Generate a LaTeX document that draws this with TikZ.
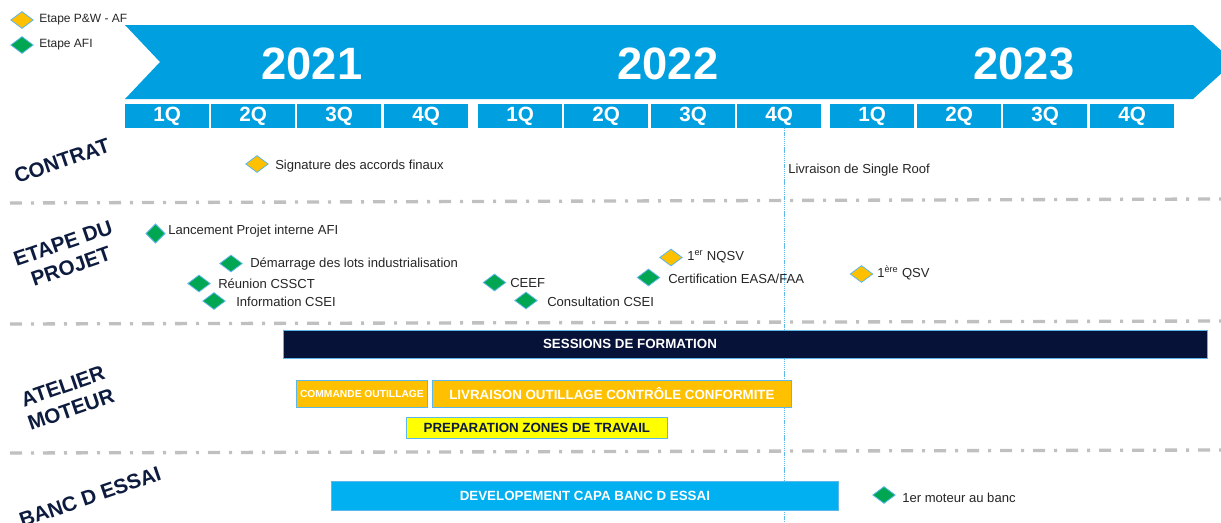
\documentclass[tikz,border=0pt]{standalone}
\usepackage{fontspec}
\setmainfont{Liberation Sans}
\usetikzlibrary{shapes.geometric}
\definecolor{banner}{HTML}{00A0E0}
\definecolor{navy}{HTML}{0D1B3E}
\definecolor{darkbar}{HTML}{061237}
\definecolor{gold}{HTML}{FFC000}
\definecolor{msgreen}{HTML}{00A651}
\definecolor{edgeblue}{HTML}{5DB7E8}
\definecolor{sepgray}{HTML}{C0C0C0}
\definecolor{cyanbar}{HTML}{00B0F0}
\definecolor{brightyellow}{HTML}{FFFF00}
\definecolor{textgray}{HTML}{262626}
\begin{document}
\begin{tikzpicture}[x=0.75pt,y=-0.75pt,
  msbase/.style={diamond, draw=edgeblue, line width=0.6pt, minimum width=17pt, minimum height=12.75pt, inner sep=0pt},
  yellowms/.style={msbase, fill=gold},
  greenms/.style={msbase, fill=msgreen},
  mslabel/.style={anchor=west, inner sep=0pt, font=\fontsize{9.8}{11}\selectfont, text=textgray},
  leglabel/.style={anchor=west, inner sep=0pt, font=\fontsize{9}{10}\selectfont, text=textgray},
  quarter/.style={anchor=north west, fill=banner, text=white, font=\bfseries\fontsize{15.5}{16}\selectfont, minimum width=63pt, minimum height=18pt, inner sep=0pt},
  year/.style={text=white, font=\bfseries\fontsize{34}{36}\selectfont, inner sep=0pt},
  section/.style={text=navy, font=\bfseries\fontsize{15.5}{18.5}\selectfont, rotate=19, align=center, inner sep=0pt},
  bar/.style={anchor=north west, draw=edgeblue, line width=0.6pt, inner sep=0pt},
  bartext/.style={font=\bfseries\fontsize{10}{11}\selectfont, inner sep=0pt},
  sep/.style={sepgray, line width=2.5pt, dash pattern=on 9pt off 6.75pt on 2.25pt off 6.75pt}
]
\clip (0,0) rectangle (1221,522);
\fill[white] (0,0) rectangle (1221,522);

% legend
\node[yellowms] (legy) at (22,20) {};
\node[leglabel] (legyt) at (39,20) {Etape P\&W - AF};
\node[greenms] (legg) at (22,45) {};
\node[leglabel] (leggt) at (39,45) {Etape AFI};

% banner
\fill[banner] (125,25) -- (1193,25) -- (1234,62) -- (1193,99) -- (125,99) -- (160,62) -- cycle;
\node[year] (y21) at (312,64) {2021};
\node[year] (y22) at (668,64) {2022};
\node[year] (y23) at (1024,64) {2023};

% quarters
\foreach \x/\q [count=\i] in {125/1Q,211/2Q,297/3Q,384/4Q,478/1Q,564/2Q,651/3Q,737/4Q,830/1Q,917/2Q,1003/3Q,1090/4Q}
  \node[quarter] (q\i) at (\x,104) {\q};

% separators
\draw[sep] (10,203) -- (1221,199);
\draw[sep] (10,324) -- (1221,321);
\draw[sep] (10,453) -- (1221,450);

% vertical marker
\coordinate (vtop) at (784,128);
\coordinate (vbot) at (784,522);
\draw[edgeblue, line width=0.7pt, dash pattern=on 1pt off 0.6pt] (vtop) -- (vbot);

% section labels
\node[section] (contrat) at (62,161) {CONTRAT};
\node[section] (etape) at (67,255) {ETAPE DU\\PROJET};
\node[section] (atelier) at (67,398) {ATELIER\\MOTEUR};
\node[section] (banc) at (90,497) {BANC D ESSAI};

% contrat
\node[yellowms] (sig) at (257,164) {};
\node[mslabel] (sigt) at (275,166) {Signature des accords finaux};
\node[mslabel] (roof) at (788,170) {Livraison de Single Roof};

% etape du projet
\node[greenms, minimum width=14.5pt, minimum height=14.5pt] (lanc) at (155.5,233.5) {};
\node[mslabel] (lanct) at (168,231) {Lancement Projet interne AFI};
\node[greenms] (dem) at (231,263.5) {};
\node[mslabel] (demt) at (250,264) {Démarrage des lots industrialisation};
\node[greenms] (reu) at (199,283.5) {};
\node[mslabel] (reut) at (218,284) {Réunion CSSCT};
\node[greenms] (info) at (214,301) {};
\node[mslabel] (infot) at (236,301.5) {Information CSEI};
\node[greenms] (ceef) at (494.5,282.5) {};
\node[mslabel] (ceeft) at (510,283) {CEEF};
\node[greenms] (cons) at (526,300.5) {};
\node[mslabel] (const) at (547,301.5) {Consultation CSEI};
\node[yellowms] (nqsv) at (671,257.5) {};
\node[mslabel] (nqsvt) at (687,257) {1\textsuperscript{er} NQSV};
\node[greenms] (cert) at (648.5,277.5) {};
\node[mslabel] (certt) at (668,279) {Certification EASA/FAA};
\node[yellowms] (qsv) at (861.5,274) {};
\node[mslabel] (qsvt) at (877,273) {1\textsuperscript{ère} QSV};

% atelier moteur
\node[bar, fill=darkbar, minimum width=693pt, minimum height=21pt] (sess) at (283,330) {};
\node[bartext, text=white] (sesst) at (630,344) {SESSIONS DE FORMATION};
\node[bar, fill=gold, minimum width=98.25pt, minimum height=20.25pt, text=white, font=\bfseries\fontsize{7.7}{9}\selectfont] (cmd) at (296,380) {COMMANDE OUTILLAGE};
\node[bar, fill=gold, minimum width=269.25pt, minimum height=20.25pt, text=white, font=\bfseries\fontsize{10}{11}\selectfont] (livr) at (432,380) {LIVRAISON OUTILLAGE CONTRÔLE CONFORMITE};
\node[bar, fill=brightyellow, minimum width=195.75pt, minimum height=15.75pt, text=navy, font=\bfseries\fontsize{10}{11}\selectfont] (prep) at (406,417) {PREPARATION ZONES DE TRAVAIL};

% banc d'essai
\node[bar, fill=cyanbar, minimum width=380.25pt, minimum height=21.75pt, text=white, font=\bfseries\fontsize{10}{11}\selectfont] (dev) at (331,481) {DEVELOPEMENT CAPA BANC D ESSAI};
\node[greenms] (mot) at (884,495) {};
\node[mslabel] (mott) at (902,498) {1er moteur au banc};
\end{tikzpicture}
\end{document}
